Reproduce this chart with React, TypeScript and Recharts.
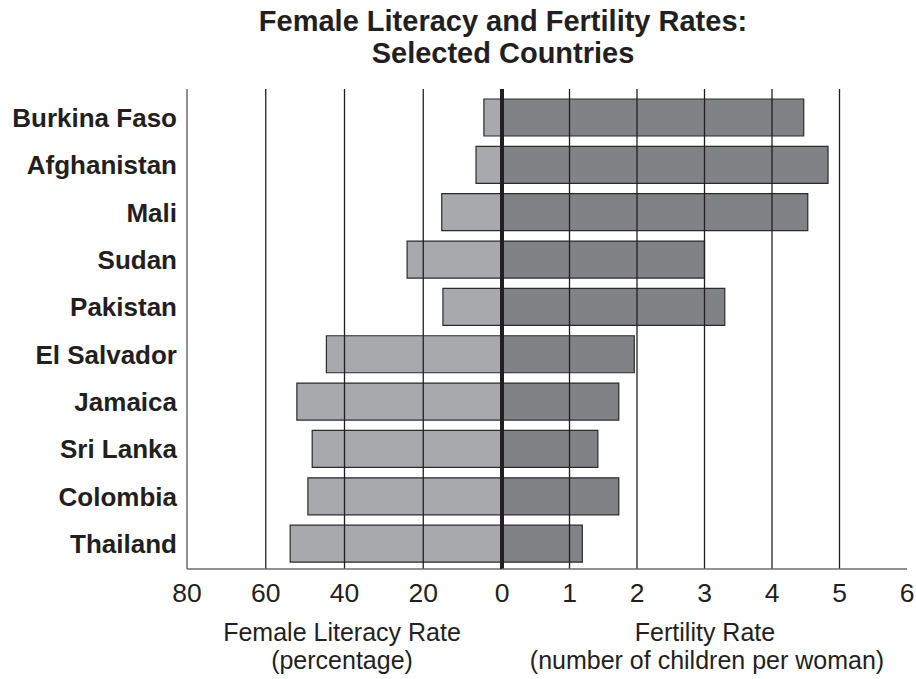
import { BarChart, Bar, XAxis, YAxis, ReferenceLine } from 'recharts';

// values
const countries = ['Burkina Faso', 'Afghanistan', 'Mali', 'Sudan', 'Pakistan', 'El Salvador', 'Jamaica', 'Sri Lanka', 'Colombia', 'Thailand'];
const literacyRates = [4.6, 6.6, 15.3, 24.1, 15.0, 44.6, 52.1, 48.2, 49.3, 53.8];
const fertilityRates = [4.47, 4.83, 4.53, 3.0, 3.3, 1.96, 1.73, 1.42, 1.73, 1.19];
const literacyTicks = [0, 20, 40, 60, 80];
const fertilityTicks = [1, 2, 3, 4, 5, 6];
const literacyGrid = [20, 40, 60];
const fertilityGrid = [1, 2, 3, 4, 5];

const data = countries.map((country, i) => ({
    country,
    literacy: literacyRates[i],
    fertility: fertilityRates[i],
}));

const W = 916;
const H = 679;
const TOP = 89;
const BOTTOM = 569;
const LEFT = 187;
const MID = 502;
const RIGHT = 907;
const AXIS_H = 40;
const LABEL_W = 180;

const FONT = '"Liberation Sans", Arial, Helvetica, sans-serif';
const INK = '#231f20';
const FRAME = '#6d6e71';
const LIGHT = '#a7a9ac';
const DARK = '#808285';
const BAR_STROKE = '#2b2b2b';

const tickStyle = { fill: INK, fontSize: 26.5, fontFamily: FONT };
const catPadding = { top: 5, bottom: 1.5 };

export default function App() {
    return (
        <div style={{ position: 'absolute', left: 0, top: 0, width: W, height: H, background: '#fff' }}>
            {/* Female literacy (left half, axis runs right-to-left) */}
            <div style={{ position: 'absolute', left: 0, top: 0 }}>
                <BarChart
                    layout="vertical"
                    width={W}
                    height={H}
                    data={data}
                    barSize={37}
                    margin={{ top: TOP, right: W - MID, bottom: H - BOTTOM - AXIS_H, left: LEFT - LABEL_W }}
                >
                    <XAxis
                        type="number"
                        domain={[0, 80]}
                        reversed
                        ticks={literacyTicks}
                        height={AXIS_H}
                        tickLine={false}
                        tickSize={6}
                        tickMargin={8}
                        axisLine={{ stroke: FRAME, strokeWidth: 1.5 }}
                        tick={tickStyle}
                        interval={0}
                    />
                    <XAxis
                        xAxisId="frame"
                        orientation="top"
                        type="number"
                        domain={[0, 80]}
                        reversed
                        height={0}
                        tick={false}
                        tickLine={false}
                        axisLine={{ stroke: FRAME, strokeWidth: 1.5 }}
                    />
                    <YAxis
                        type="category"
                        dataKey="country"
                        width={LABEL_W}
                        interval={0}
                        tickLine={false}
                        tickSize={6}
                        tickMargin={4}
                        padding={catPadding}
                        axisLine={{ stroke: FRAME, strokeWidth: 1.5 }}
                        tick={{ fill: INK, fontSize: 26, fontWeight: 'bold', fontFamily: FONT }}
                    />
                    <Bar
                        dataKey="literacy"
                        fill={LIGHT}
                        stroke={BAR_STROKE}
                        strokeWidth={1.2}
                        isAnimationActive={false}
                    />
                    {literacyGrid.map((v) => (
                        <ReferenceLine key={v} x={v} stroke={INK} strokeWidth={1.3} />
                    ))}
                </BarChart>
            </div>

            {/* Fertility (right half) */}
            <div style={{ position: 'absolute', left: 0, top: 0 }}>
                <BarChart
                    layout="vertical"
                    width={W}
                    height={H}
                    data={data}
                    barSize={37}
                    margin={{ top: TOP, right: W - RIGHT, bottom: H - BOTTOM - AXIS_H, left: MID }}
                >
                    <XAxis
                        type="number"
                        domain={[0, 6]}
                        ticks={fertilityTicks}
                        height={AXIS_H}
                        tickLine={false}
                        tickSize={6}
                        tickMargin={8}
                        axisLine={{ stroke: FRAME, strokeWidth: 1.5 }}
                        tick={tickStyle}
                        interval={0}
                    />
                    <XAxis
                        xAxisId="frame"
                        orientation="top"
                        type="number"
                        domain={[0, 6]}
                        height={0}
                        tick={false}
                        tickLine={false}
                        axisLine={{ stroke: FRAME, strokeWidth: 1.5 }}
                    />
                    <YAxis
                        type="category"
                        dataKey="country"
                        orientation="right"
                        width={0}
                        tick={false}
                        tickLine={false}
                        padding={catPadding}
                        axisLine={{ stroke: FRAME, strokeWidth: 1.5 }}
                    />
                    <Bar
                        dataKey="fertility"
                        fill={DARK}
                        stroke={BAR_STROKE}
                        strokeWidth={1.2}
                        isAnimationActive={false}
                    />
                    {fertilityGrid.map((v) => (
                        <ReferenceLine key={v} x={v} stroke={INK} strokeWidth={1.3} />
                    ))}
                    <ReferenceLine x={0} stroke={INK} strokeWidth={4} />
                </BarChart>
            </div>

            {/* titles */}
            <svg width={W} height={H} style={{ position: 'absolute', left: 0, top: 0, pointerEvents: 'none' }}>
                <g fontFamily={FONT} fill={INK} textAnchor="middle">
                    <text fontSize={29} fontWeight="bold">
                        <tspan x={503} y={31}>Female Literacy and Fertility Rates:</tspan>
                        <tspan x={503} y={63}>Selected Countries</tspan>
                    </text>
                    <text fontSize={25} x={342} y={641}>Female Literacy Rate</text>
                    <text fontSize={25} x={342} y={669}>(percentage)</text>
                    <text fontSize={25} x={705} y={641}>Fertility Rate</text>
                    <text fontSize={25} x={707} y={669}>(number of children per woman)</text>
                </g>
            </svg>
        </div>
    );
}
